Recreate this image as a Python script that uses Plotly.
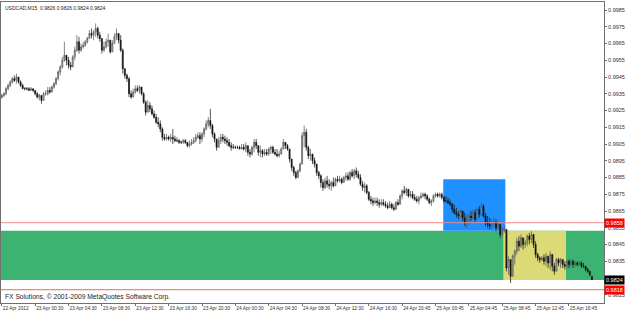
import plotly.graph_objects as go

# ---------------- data (prices in pips: 9934 -> 0.9934) ----------------
open_pips = [
    9933, 9934, 9935, 9938, 9940, 9942, 9944, 9943, 9945, 9942,
    9940, 9938, 9938, 9938, 9937, 9938, 9937, 9935, 9933, 9934,
    9931, 9935, 9935, 9937, 9936, 9939, 9941, 9944, 9948, 9951,
    9955, 9958, 9955, 9952, 9951, 9957, 9961, 9966, 9961, 9963,
    9964, 9966, 9968, 9971, 9970, 9972, 9974, 9970, 9968, 9961,
    9963, 9966, 9967, 9960, 9965, 9969, 9971, 9967, 9961, 9950,
    9946, 9944, 9935, 9933, 9936, 9938, 9937, 9939, 9935, 9930,
    9924, 9928, 9926, 9923, 9921, 9918, 9917, 9914, 9909, 9908,
    9909, 9908, 9909, 9908, 9907, 9907, 9906, 9906, 9907, 9906,
    9904, 9905, 9906, 9907, 9909, 9910, 9908, 9911, 9914, 9917,
    9919, 9916, 9911, 9908, 9903, 9907, 9909, 9908, 9907, 9906,
    9904, 9903, 9903, 9903, 9903, 9902, 9903, 9902, 9904, 9900,
    9899, 9903, 9906, 9904, 9900, 9901, 9899, 9900, 9899, 9902,
    9903, 9900, 9899, 9898, 9899, 9902, 9906, 9904, 9902, 9896,
    9891, 9888, 9885, 9889, 9893, 9910, 9912, 9903, 9898, 9899,
    9895, 9893, 9888, 9886, 9882, 9879, 9883, 9881, 9880, 9882,
    9880, 9884, 9883, 9884, 9882, 9885, 9886, 9884, 9888, 9886,
    9889, 9887, 9885, 9881, 9879, 9880, 9876, 9872, 9871, 9870,
    9871, 9870, 9869, 9870, 9869, 9868, 9867, 9869, 9867, 9866,
    9870, 9869, 9874, 9877, 9876, 9878, 9874, 9875, 9873, 9872,
    9871, 9873, 9874, 9875, 9874, 9872, 9870, 9871, 9874, 9875,
    9874, 9875, 9873, 9871, 9871, 9870, 9869, 9866, 9864, 9863,
    9862, 9865, 9861, 9858, 9860, 9862, 9861, 9864, 9860, 9866,
    9863, 9868, 9862, 9858, 9857, 9856, 9858, 9858, 9855, 9857,
    9851, 9853, 9854, 9831, 9836, 9826, 9838, 9841, 9847, 9844,
    9849, 9845, 9846, 9850, 9848, 9851, 9845, 9839, 9837, 9836,
    9837, 9835, 9838, 9834, 9839, 9832, 9829, 9836, 9834, 9836,
    9833, 9832, 9835, 9833, 9835, 9833, 9834, 9833, 9834, 9832,
    9832, 9830, 9829, 9826,
]
high_pips = [
    9935, 9936, 9939, 9941, 9943, 9945, 9946, 9947, 9945, 9943,
    9941, 9939, 9939, 9939, 9939, 9938, 9937, 9936, 9935, 9934,
    9936, 9937, 9939, 9939, 9940, 9942, 9945, 9949, 9952, 9957,
    9966, 9958, 9957, 9954, 9958, 9963, 9970, 9969, 9965, 9966,
    9967, 9969, 9973, 9974, 9973, 9977, 9975, 9972, 9968, 9966,
    9968, 9971, 9967, 9967, 9971, 9974, 9971, 9970, 9962, 9950,
    9947, 9945, 9937, 9938, 9940, 9940, 9940, 9939, 9936, 9931,
    9931, 9930, 9928, 9925, 9923, 9921, 9919, 9915, 9911, 9911,
    9910, 9911, 9914, 9910, 9909, 9908, 9907, 9908, 9908, 9906,
    9907, 9908, 9909, 9911, 9912, 9912, 9912, 9915, 9919, 9921,
    9926, 9917, 9912, 9908, 9909, 9911, 9911, 9910, 9909, 9908,
    9906, 9905, 9904, 9904, 9904, 9905, 9905, 9906, 9904, 9902,
    9904, 9908, 9908, 9904, 9904, 9902, 9902, 9902, 9903, 9904,
    9904, 9902, 9902, 9901, 9903, 9908, 9906, 9905, 9902, 9896,
    9892, 9889, 9890, 9894, 9912, 9916, 9914, 9904, 9902, 9899,
    9897, 9893, 9889, 9887, 9884, 9885, 9886, 9884, 9883, 9885,
    9885, 9886, 9886, 9885, 9886, 9888, 9888, 9889, 9890, 9890,
    9891, 9889, 9887, 9883, 9882, 9881, 9877, 9874, 9873, 9873,
    9873, 9872, 9872, 9872, 9871, 9870, 9871, 9870, 9869, 9871,
    9872, 9875, 9878, 9880, 9879, 9878, 9877, 9877, 9875, 9874,
    9874, 9876, 9876, 9876, 9875, 9873, 9872, 9875, 9876, 9876,
    9876, 9876, 9874, 9874, 9873, 9872, 9870, 9869, 9867, 9865,
    9866, 9865, 9864, 9863, 9864, 9865, 9866, 9866, 9867, 9868,
    9870, 9869, 9864, 9862, 9861, 9860, 9861, 9860, 9859, 9857,
    9855, 9856, 9854, 9838, 9836, 9839, 9842, 9849, 9850, 9851,
    9849, 9848, 9851, 9852, 9853, 9851, 9847, 9840, 9838, 9838,
    9839, 9840, 9838, 9841, 9839, 9834, 9837, 9837, 9837, 9836,
    9835, 9836, 9836, 9836, 9836, 9835, 9835, 9835, 9835, 9834,
    9832, 9831, 9829, 9826,
]
low_pips = [
    9932, 9933, 9934, 9937, 9939, 9941, 9942, 9941, 9941, 9939,
    9938, 9937, 9937, 9937, 9937, 9936, 9934, 9932, 9931, 9929,
    9931, 9934, 9934, 9935, 9936, 9938, 9940, 9943, 9946, 9950,
    9954, 9952, 9950, 9949, 9951, 9955, 9960, 9959, 9960, 9962,
    9963, 9965, 9968, 9968, 9967, 9969, 9968, 9966, 9959, 9960,
    9962, 9963, 9959, 9960, 9965, 9967, 9965, 9960, 9947, 9944,
    9942, 9933, 9932, 9933, 9935, 9936, 9935, 9934, 9929, 9922,
    9924, 9924, 9922, 9920, 9917, 9915, 9912, 9907, 9907, 9907,
    9907, 9906, 9905, 9906, 9906, 9905, 9905, 9905, 9905, 9903,
    9903, 9904, 9905, 9906, 9908, 9905, 9906, 9909, 9913, 9915,
    9914, 9909, 9906, 9901, 9903, 9905, 9906, 9905, 9904, 9903,
    9901, 9902, 9902, 9902, 9902, 9902, 9901, 9900, 9898, 9897,
    9898, 9900, 9902, 9898, 9897, 9897, 9898, 9898, 9898, 9899,
    9899, 9898, 9897, 9897, 9899, 9902, 9902, 9901, 9894, 9889,
    9886, 9884, 9885, 9888, 9893, 9903, 9901, 9896, 9895, 9893,
    9891, 9886, 9884, 9879, 9877, 9878, 9879, 9878, 9877, 9879,
    9880, 9882, 9882, 9881, 9882, 9883, 9883, 9883, 9885, 9884,
    9885, 9884, 9880, 9877, 9876, 9875, 9871, 9869, 9868, 9869,
    9868, 9867, 9868, 9868, 9867, 9866, 9867, 9866, 9865, 9866,
    9868, 9869, 9872, 9875, 9874, 9873, 9873, 9872, 9871, 9870,
    9869, 9872, 9873, 9872, 9871, 9869, 9868, 9870, 9873, 9873,
    9873, 9872, 9870, 9870, 9869, 9868, 9864, 9863, 9861, 9860,
    9861, 9859, 9856, 9855, 9857, 9859, 9860, 9858, 9860, 9861,
    9862, 9861, 9856, 9855, 9854, 9854, 9856, 9853, 9854, 9849,
    9850, 9852, 9829, 9827, 9822, 9826, 9833, 9839, 9841, 9843,
    9842, 9843, 9844, 9845, 9846, 9843, 9837, 9835, 9834, 9835,
    9833, 9832, 9831, 9830, 9829, 9827, 9829, 9832, 9831, 9831,
    9830, 9831, 9831, 9832, 9831, 9832, 9832, 9832, 9831, 9831,
    9829, 9828, 9826, 9824,
]
close_pips = [
    9934, 9935, 9938, 9940, 9942, 9944, 9943, 9945, 9942, 9940,
    9938, 9938, 9938, 9937, 9938, 9937, 9935, 9933, 9934, 9931,
    9935, 9935, 9937, 9936, 9939, 9941, 9944, 9948, 9951, 9955,
    9958, 9955, 9952, 9951, 9957, 9961, 9966, 9961, 9963, 9964,
    9966, 9968, 9971, 9970, 9972, 9974, 9970, 9968, 9961, 9963,
    9966, 9967, 9960, 9965, 9969, 9971, 9967, 9961, 9950, 9946,
    9944, 9935, 9933, 9936, 9938, 9937, 9939, 9935, 9930, 9924,
    9928, 9926, 9923, 9921, 9918, 9917, 9914, 9909, 9908, 9909,
    9908, 9909, 9908, 9907, 9907, 9906, 9906, 9907, 9906, 9904,
    9905, 9906, 9907, 9909, 9910, 9908, 9911, 9914, 9917, 9919,
    9916, 9911, 9908, 9903, 9907, 9909, 9908, 9907, 9906, 9904,
    9903, 9903, 9903, 9903, 9902, 9903, 9902, 9904, 9900, 9899,
    9903, 9906, 9904, 9900, 9901, 9899, 9900, 9899, 9902, 9903,
    9900, 9899, 9898, 9899, 9902, 9906, 9904, 9902, 9896, 9891,
    9888, 9885, 9889, 9893, 9910, 9912, 9903, 9898, 9899, 9895,
    9893, 9888, 9886, 9882, 9879, 9883, 9881, 9880, 9882, 9880,
    9884, 9883, 9884, 9882, 9885, 9886, 9884, 9888, 9886, 9889,
    9887, 9885, 9881, 9879, 9880, 9876, 9872, 9871, 9870, 9871,
    9870, 9869, 9870, 9869, 9868, 9867, 9869, 9867, 9866, 9870,
    9869, 9874, 9877, 9876, 9878, 9874, 9875, 9873, 9872, 9871,
    9873, 9874, 9875, 9874, 9872, 9870, 9871, 9874, 9875, 9874,
    9875, 9873, 9871, 9871, 9870, 9869, 9866, 9864, 9863, 9862,
    9865, 9861, 9858, 9860, 9862, 9861, 9864, 9860, 9866, 9863,
    9868, 9862, 9858, 9857, 9856, 9858, 9858, 9855, 9857, 9851,
    9853, 9854, 9831, 9836, 9826, 9838, 9841, 9847, 9844, 9849,
    9845, 9846, 9850, 9848, 9851, 9845, 9839, 9837, 9836, 9837,
    9835, 9838, 9834, 9839, 9832, 9829, 9836, 9834, 9836, 9833,
    9832, 9835, 9833, 9835, 9833, 9834, 9833, 9834, 9832, 9832,
    9830, 9829, 9827, 9824,
]

time_labels = [
    "22 Apr 2012", "23 Apr 00:30", "23 Apr 04:30", "23 Apr 08:30",
    "23 Apr 12:30", "23 Apr 16:30", "23 Apr 20:30", "24 Apr 00:30",
    "24 Apr 04:30", "24 Apr 08:30", "24 Apr 12:30", "24 Apr 16:30",
    "24 Apr 20:45", "25 Apr 00:45", "25 Apr 04:45", "25 Apr 08:45",
    "25 Apr 12:45", "25 Apr 16:45",
]
time_label_bars = [0, 16, 32, 48, 64, 80, 96, 112, 128, 144,
                   160, 176, 192, 208, 224, 240, 256, 272]

price_ticks = [0.9815, 0.9825, 0.9835, 0.9845, 0.9855, 0.9865, 0.9875,
               0.9885, 0.9895, 0.9905, 0.9915, 0.9925, 0.9935, 0.9945,
               0.9955, 0.9965, 0.9975, 0.9985]
# tick labels that sit under the current-price box in the reference
hidden_ticks = [0.9825]

red_levels = [0.9858, 0.9818]
last_price = 0.9824
title_text = "USDCAD,M15  0.9826 0.9826 0.9824 0.9824"
copyright_text = "FX Solutions, \u00a9 2001-2009 MetaQuotes Software Corp."

# zones (bar index / price)
zone_green = (0.98238, 0.98532)
zone_blue = (211.7, 241.5, 0.98532, 0.98840)
zone_yellow = (240.5, 270.6, 0.98238, 0.98532)

assert len(open_pips) == len(high_pips) == len(low_pips) == len(close_pips) == 284

bars = list(range(len(close_pips)))
o = [v / 10000 for v in open_pips]
h = [v / 10000 for v in high_pips]
l = [v / 10000 for v in low_pips]
c = [v / 10000 for v in close_pips]

FONT = "Liberation Sans"
AX = "#707070"

fig = go.Figure()
fig.add_trace(go.Candlestick(
    x=bars, open=o, high=h, low=l, close=c,
    increasing=dict(line=dict(color="#505050", width=0.7), fillcolor="#c4c4c4"),
    decreasing=dict(line=dict(color="#111111", width=0.7), fillcolor="#111111"),
    whiskerwidth=0, hoverinfo="skip", showlegend=False,
))

shapes = [
    dict(type="rect", xref="paper", yref="y", x0=0, x1=1,
         y0=zone_green[0], y1=zone_green[1], fillcolor="#3CB371",
         line=dict(width=0), layer="below"),
    dict(type="rect", xref="x", yref="y", x0=zone_blue[0], x1=zone_blue[1],
         y0=zone_blue[2], y1=zone_blue[3], fillcolor="#1E90FF",
         line=dict(width=0), layer="below"),
    dict(type="rect", xref="x", yref="y", x0=zone_yellow[0], x1=zone_yellow[1],
         y0=zone_yellow[2], y1=zone_yellow[3], fillcolor="#DCDA76",
         line=dict(width=0), layer="below"),
]
for lv, col in zip(red_levels, ["#F28A8A", "#EE6A55"]):
    shapes.append(dict(type="line", xref="paper", yref="y", x0=0, x1=1,
                       y0=lv, y1=lv, line=dict(color=col, width=1), layer="above"))

annotations = [
    dict(text=title_text, xref="paper", yref="paper", x=0, y=1,
         xanchor="left", yanchor="top", xshift=2, yshift=-1, showarrow=False,
         font=dict(family=FONT, size=5, color="#222")),
    dict(text=copyright_text, xref="paper", yref="paper", x=0, y=0,
         xanchor="left", yanchor="bottom", xshift=2, yshift=0, showarrow=False,
         font=dict(family=FONT, size=6.7, color="#222")),
]
for lv in red_levels:
    annotations.append(dict(text=f"{lv:.4f}", xref="paper", yref="y", x=1, y=lv,
                            xanchor="left", yanchor="middle", showarrow=False,
                            bgcolor="#FF0000", borderpad=1,
                            font=dict(family=FONT, size=5.5, color="white")))
annotations.append(dict(text=f"{last_price:.4f}", xref="paper", yref="y", x=1, y=last_price,
                        xanchor="left", yanchor="middle", showarrow=False,
                        bgcolor="#000000", borderpad=1,
                        font=dict(family=FONT, size=5.5, color="white")))

fig.update_layout(
    width=625, height=313,
    margin=dict(l=1, r=21, t=2, b=10),
    paper_bgcolor="white", plot_bgcolor="white",
    showlegend=False,
    shapes=shapes, annotations=annotations,
    xaxis=dict(
        range=[-0.4, 288.8], rangeslider=dict(visible=False),
        showgrid=False, zeroline=False, automargin=False,
        showline=True, linecolor=AX, linewidth=1, mirror=True,
        tickvals=time_label_bars, ticktext=time_labels, tickangle=0,
        ticks="outside", ticklen=2, tickcolor=AX, tickwidth=1,
        ticklabelposition="outside right",
        tickfont=dict(family=FONT, size=4.8, color="#333"),
    ),
    yaxis=dict(
        side="right", range=[0.981007, 0.998978],
        showgrid=False, zeroline=False, automargin=False,
        showline=True, linecolor=AX, linewidth=1, mirror=True,
        tickvals=price_ticks,
        ticktext=["" if v in hidden_ticks else f"{v:.4f}" for v in price_ticks],
        ticks="outside", ticklen=2, tickcolor=AX, tickwidth=1,
        tickfont=dict(family=FONT, size=5.5, color="#333"),
    ),
)

fig.write_html("out.html")
